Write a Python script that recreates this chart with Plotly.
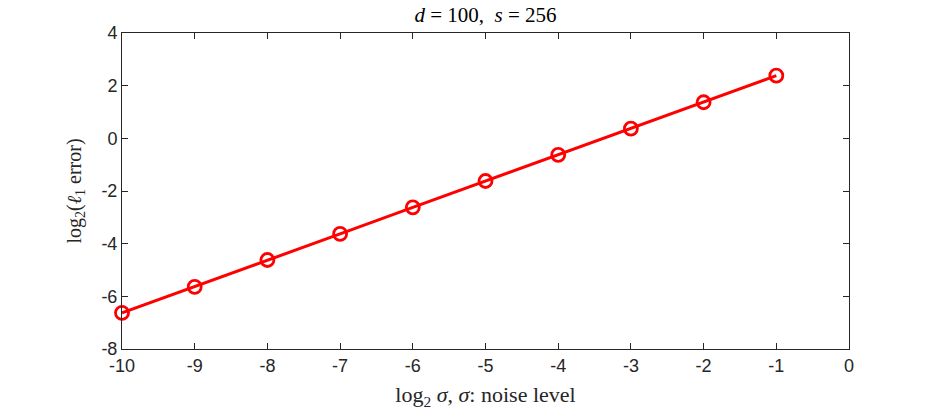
import plotly.graph_objects as go

log2_sigma = [-10, -9, -8, -7, -6, -5, -4, -3, -2, -1]
log2_err = [-6.63, -5.64, -4.62, -3.63, -2.62, -1.62, -0.63, 0.37, 1.37, 2.38]
x_ticks = list(range(-10, 1))
y_ticks = [-8, -6, -4, -2, 0, 2, 4]

fig = go.Figure()
fig.add_trace(go.Scatter(
    x=log2_sigma, y=log2_err, mode="lines+markers",
    line=dict(color="#ff0000", width=3),
    marker=dict(symbol="circle-open", size=13, color="#ff0000", line=dict(width=2.8, color="#ff0000")),
    showlegend=False, cliponaxis=False,
))

serif = "Liberation Serif, Times New Roman, serif"
axis_common = dict(
    showline=True, linecolor="#262626", linewidth=1, mirror="ticks",
    ticks="inside", ticklen=6, tickcolor="#262626", tickwidth=1,
    showgrid=False, zeroline=False,
    tickfont=dict(family="Liberation Sans, Arial, sans-serif", size=18, color="#262626"),
)

fig.update_layout(
    width=938, height=417,
    margin=dict(l=122, r=89, t=33, b=68),
    plot_bgcolor="white", paper_bgcolor="white",
    title=dict(
        text="<i>d</i> = 100,  <i>s</i> = 256",
        x=(122 + 849) / 2 / 938, xanchor="center", y=0.982, yanchor="top",
        font=dict(family=serif, size=21, color="#000000"),
    ),
    xaxis=dict(axis_common, range=[-10, 0], tickvals=x_ticks,
               ticktext=[str(v) for v in x_ticks],
               title=dict(text="log<sub>2</sub> <i>σ</i>, <i>σ</i>: noise level", standoff=12,
                          font=dict(family=serif, size=22, color="#262626"))),
    yaxis=dict(axis_common, range=[-8, 4], tickvals=y_ticks,
               ticktext=[str(v) for v in y_ticks],
               title=dict(text="log<sub>2</sub>(<i>ℓ</i><sub>1</sub> error)", standoff=14,
                          font=dict(family=serif, size=20, color="#262626"))),
)

fig.write_html("out.html")
